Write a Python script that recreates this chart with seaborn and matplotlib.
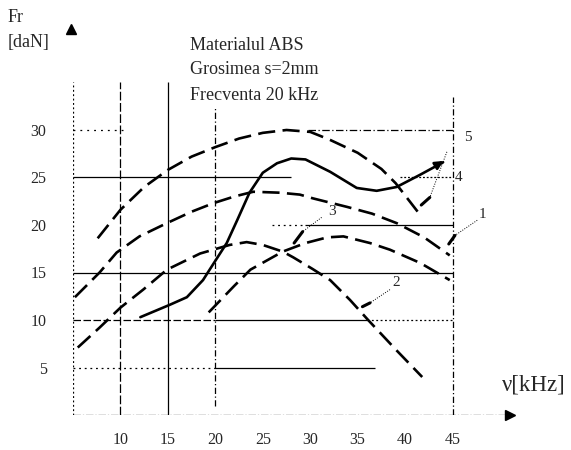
import matplotlib
matplotlib.use("Agg")
import matplotlib.pyplot as plt
import seaborn as sns
import pandas as pd

# ---- data ----
c1_x = [5.2, 7.8, 9.6, 12.0, 14.9, 17.5, 19.8, 22.0, 24.0, 26.8, 28.9, 30.3, 33.9, 36.5, 39.1, 42.0, 44.7]
c1_y = [12.4, 15.0, 17.1, 18.8, 20.2, 21.4, 22.3, 23.0, 23.5, 23.4, 23.2, 22.8, 21.9, 21.2, 20.2, 18.7, 16.8]

c2_x = [5.5, 7.8, 10.0, 12.4, 14.9, 18.4, 21.5, 23.3, 25.0, 27.1, 28.2, 30.2, 32.1, 34.2, 36.1, 39.1, 41.8]
c2_y = [7.1, 9.2, 11.3, 13.2, 15.3, 17.0, 17.9, 18.2, 17.9, 17.2, 16.6, 15.4, 14.2, 12.1, 10.0, 6.8, 4.0]

c3_x = [19.3, 22.0, 23.7, 27.1, 29.5, 31.8, 33.5, 36.3, 38.4, 41.6, 44.7]
c3_y = [10.8, 13.6, 15.3, 17.2, 18.1, 18.7, 18.8, 18.1, 17.4, 16.0, 14.2]

c4_x = [12.1, 15.2, 17.0, 18.7, 19.4, 21.2, 22.3, 23.6, 25.0, 26.5, 28.0, 29.5, 32.1, 34.9, 37.0, 39.1, 41.6, 44.0]
c4_y = [10.3, 11.6, 12.4, 14.2, 15.3, 18.1, 20.5, 23.4, 25.5, 26.5, 27.0, 26.9, 25.6, 23.9, 23.6, 24.0, 25.3, 26.6]

c5_x = [7.6, 10.0, 12.5, 15.0, 17.5, 20.0, 22.5, 25.0, 27.5, 30.0, 32.0, 35.0, 37.5, 39.0, 41.4]
c5_y = [18.6, 21.6, 24.0, 25.8, 27.2, 28.2, 29.1, 29.7, 30.0, 29.8, 29.0, 27.6, 25.9, 24.4, 21.3]

x_ticks = [10, 15, 20, 25, 30, 35, 40, 45]
y_ticks = [5, 10, 15, 20, 25, 30]
curve_labels = ["1", "2", "3", "4", "5"]
title_lines = ["Materialul ABS", "Grosimea s=2mm", "Frecventa 20 kHz"]

sns.set_style("white")
plt.rcParams['font.family'] = ['Liberation Serif', 'DejaVu Serif']

W, H = 571, 450
fig = plt.figure(figsize=(W / 100, H / 100), dpi=100)
ax = fig.add_axes([73 / W, 35 / H, (519 - 73) / W, 35.5 * 9.5 / H])
ax.set_xlim(5, 52)
ax.set_ylim(0, 35.5)
for s in ax.spines.values():
    s.set_visible(False)

# ---- grid / frame lines ----
thin = dict(color="black", lw=0.9)
ax.vlines(10, 0, 35, linestyles=(0, (7, 2)), **thin)
ax.vlines(15, 0, 35, linestyles="solid", **thin)
ax.vlines(20, 1, 32.4, linestyles=(0, (5, 2, 1, 2)), **thin)
ax.vlines(45, 0, 33.5, linestyles=(0, (5, 2, 1, 2)), **thin)
ax.vlines(5, 0, 35.0, linestyles=(0, (1.5, 2)), **thin)

ax.hlines(30, 5, 10.5, linestyles=(0, (1.5, 4)), **thin)
ax.hlines(30, 29.8, 45, linestyles=(0, (6, 2, 1, 2)), **thin)
ax.hlines(25, 5, 28, linestyles="solid", **thin)
ax.hlines(25, 39.5, 45, linestyles=(0, (1.5, 1.5)), **thin)
ax.hlines(20, 26, 29.5, linestyles=(0, (1.5, 3)), **thin)
ax.hlines(20, 29.5, 45, linestyles="solid", **thin)
ax.hlines(15, 5, 45, linestyles="solid", **thin)
ax.hlines(10, 5, 20, linestyles=(0, (6, 2)), **thin)
ax.hlines(10, 20, 36, linestyles="solid", **thin)
ax.hlines(10, 36, 45, linestyles=(0, (1.5, 2)), **thin)
ax.hlines(5, 5, 20, linestyles=(0, (1.5, 3)), **thin)
ax.hlines(5, 20, 36.8, linestyles="solid", **thin)
ax.hlines(0, 5, 50.5, linestyles=(0, (6, 1.5, 1, 1.5)), **thin)
ax.plot([51.0], [0], marker=">", ms=7, color="black", clip_on=False)
ax.plot([4.75], [40.6], marker="^", ms=6.5, color="black", clip_on=False)

# ---- curves ----
dash = (0, (6.5, 2.8))
curves = [(c1_x, c1_y, dash), (c2_x, c2_y, dash), (c3_x, c3_y, dash),
          (c4_x, c4_y, "solid"), (c5_x, c5_y, dash)]
for cx, cy, ls in curves:
    df = pd.DataFrame({"x": cx, "y": cy})
    sns.lineplot(data=df, x="x", y="y", ax=ax, color="black", lw=1.9,
                 linestyle=ls, sort=False, estimator=None)

# arrow head at the end of curve 4
ax.annotate("", xy=(44.3, 26.9), xytext=(43.0, 26.1),
            arrowprops=dict(arrowstyle="-|>", color="black", lw=1.9, mutation_scale=12))

# ---- curve labels and leaders ----
lab_pos = {"1": (48.1, 21.1), "2": (39.1, 14.0), "3": (32.3, 21.4),
           "4": (45.6, 25.0), "5": (46.6, 29.2)}
leaders = {"1": ((47.6, 20.5), (45.25, 18.9), (44.6, 18.0)),
           "2": ((38.4, 13.2), (36.3, 11.8), (35.5, 11.4)),
           "3": ((31.2, 20.8), (29.2, 19.3), (28.3, 18.1)),
           "5": ((44.4, 27.7), (42.6, 22.9), (41.7, 22.1))}
for lab in curve_labels:
    px, py = lab_pos[lab]
    ax.text(px, py, lab, fontsize=11, ha="center", va="center")
    if lab in leaders:
        a, b, c = leaders[lab]
        ax.plot([a[0], b[0]], [a[1], b[1]], color="black", lw=0.7, ls=(0, (1, 1.5)))
        ax.plot([b[0], c[0]], [b[1], c[1]], color="black", lw=2.2)

# ---- ticks ----
ax.set_xticks(x_ticks)
ax.set_yticks(y_ticks)
ax.set_xticklabels([str(t) for t in x_ticks], fontsize=11.5)
ax.set_yticklabels([str(t) for t in y_ticks], fontsize=11.5)
ax.tick_params(axis="x", length=0, pad=12)
ax.tick_params(axis="y", length=0, pad=19)
ax.set_xlabel("")
ax.set_ylabel("")
ax.grid(False)

# ---- texts ----
for i, t in enumerate(title_lines):
    fig.text(190 / W, 1 - (45 + 25 * i) / H, t, fontsize=13, va="center", ha="left")
fig.text(8 / W, 1 - 17 / H, "Fr", fontsize=13, va="center", ha="left")
fig.text(8 / W, 1 - 42 / H, "[daN]", fontsize=13, va="center", ha="left")
fig.text(502 / W, 1 - 385 / H, "ν[kHz]", fontsize=16.5, va="center", ha="left")

fig.savefig("out.png", dpi=100)
